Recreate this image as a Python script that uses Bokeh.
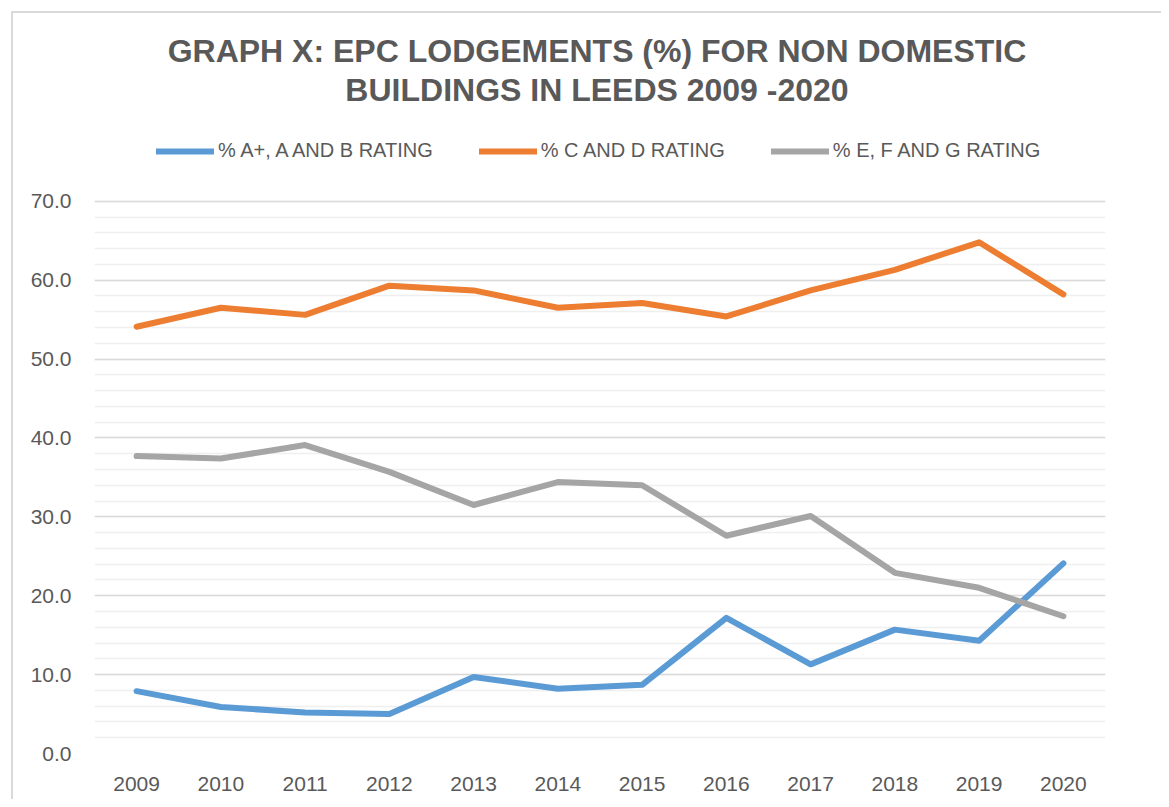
from bokeh.plotting import figure
from bokeh.models import (FactorRange, Range1d, Label, Legend, LegendItem,
                          FixedTicker, NumeralTickFormatter)
from bokeh.embed import file_html
from bokeh.resources import INLINE

years = ["2009", "2010", "2011", "2012", "2013", "2014", "2015", "2016", "2017", "2018", "2019", "2020"]
ab_rating = [7.9, 5.9, 5.2, 5.0, 9.7, 8.2, 8.7, 17.2, 11.3, 15.7, 14.3, 24.1]
cd_rating = [54.1, 56.5, 55.6, 59.3, 58.7, 56.5, 57.1, 55.4, 58.7, 61.3, 64.8, 58.2]
efg_rating = [37.7, 37.4, 39.1, 35.7, 31.5, 34.4, 34.0, 27.6, 30.1, 22.9, 21.0, 17.4]
y_ticks = [0, 10, 20, 30, 40, 50, 60, 70]
y_minor_ticks = list(range(0, 71, 2))
series_names = ["% A+, A AND B RATING", "% C AND D RATING", "% E, F AND G RATING"]
series_colors = ["#5b9bd5", "#ed7d31", "#a5a5a5"]
title_lines = ["GRAPH X: EPC LODGEMENTS (%) FOR NON DOMESTIC", "BUILDINGS IN LEEDS 2009 -2020"]

TXT = "#595959"
FONT = "Liberation Sans"

# The frame reaches up to the canvas top so that title and legend sit inside it;
# the value axis only shows 0-70.
p = figure(width=1150, height=788, output_backend="svg", toolbar_location=None,
           x_range=FactorRange(*years, range_padding=0), y_range=Range1d(0, 93.8),
           min_border_left=81, min_border_right=58, min_border_top=0, min_border_bottom=48)
p.styles = {"border-left": "2px solid #d9d9d9", "border-top": "2px solid #d9d9d9",
            "margin-left": "11px", "margin-top": "11px"}
p.outline_line_color = None
p.background_fill_color = "white"
p.border_fill_color = "white"

renderers = []
for vals, col in zip([ab_rating, cd_rating, efg_rating], series_colors):
    r = p.line(years, vals, line_color=col, line_width=6, line_cap="round", line_join="round")
    renderers.append(r)

# axes
p.yaxis.ticker = FixedTicker(ticks=y_ticks, minor_ticks=y_minor_ticks)
p.yaxis.formatter = NumeralTickFormatter(format="0.0")
for ax in (p.xaxis[0], p.yaxis[0]):
    ax.axis_line_color = None
    ax.major_tick_line_color = None
    ax.minor_tick_line_color = None
    ax.major_label_text_color = TXT
    ax.major_label_text_font = FONT
    ax.major_label_text_font_size = "21px"
p.yaxis.major_label_standoff = 17
p.xaxis.major_label_standoff = 17

p.xgrid.grid_line_color = None
p.ygrid.grid_line_color = "#d9d9d9"
p.ygrid.grid_line_width = 1.5
p.ygrid.minor_grid_line_color = "#efefef"
p.ygrid.minor_grid_line_width = 1.5

# legend (location = bottom-left of the legend box, screen px from frame bottom-left)
items = [LegendItem(label=n, renderers=[r]) for n, r in zip(series_names, renderers)]
legend = Legend(items=items, orientation="horizontal", location=(62, 591),
                glyph_width=58, label_standoff=4, spacing=46, padding=10, margin=0,
                label_text_font=FONT, label_text_font_size="20px", label_text_color=TXT,
                border_line_color=None, background_fill_alpha=0)
p.add_layout(legend, "center")

# title
for t, yy in zip(title_lines, [89.0, 84.05]):
    p.add_layout(Label(x=502.5, y=yy, x_units="screen", y_units="data", text=t,
                       text_align="center", text_baseline="alphabetic",
                       text_font=FONT, text_font_style="bold", text_font_size="32px",
                       text_color=TXT))

open("out.html", "w").write(file_html(p, INLINE))
